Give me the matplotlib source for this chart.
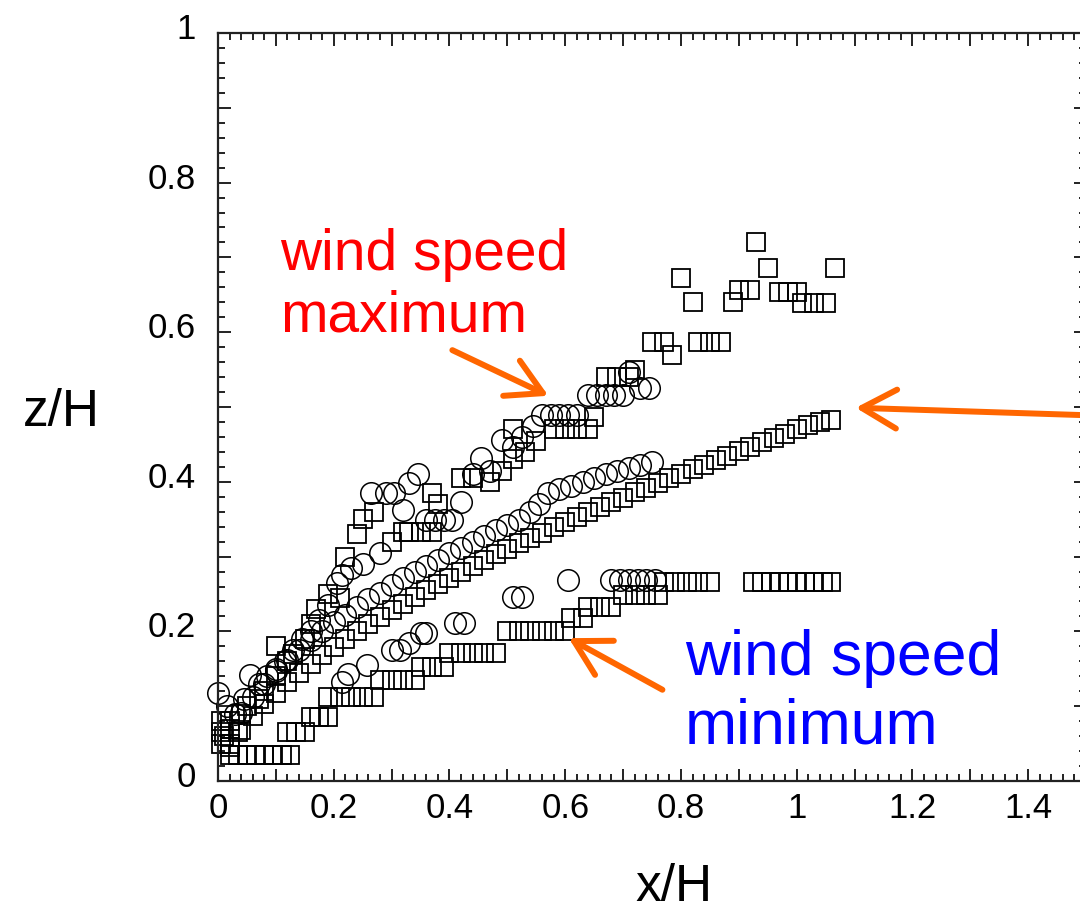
import matplotlib
matplotlib.use("Agg")
import matplotlib.pyplot as plt
from matplotlib.ticker import MultipleLocator, FuncFormatter
import matplotlib.transforms as mtransforms

plt.rcParams['font.family'] = ['Liberation Sans', 'DejaVu Sans']

# upper branch (wind speed maximum), squares
max_sq_x = [0.01, 0.02, 0.04, 0.05, 0.07, 0.08, 0.10, 0.10, 0.12, 0.13, 0.15, 0.16, 0.17, 0.19,
            0.21, 0.22, 0.24, 0.25, 0.27, 0.30, 0.32, 0.33, 0.35, 0.37, 0.37, 0.38, 0.42, 0.44,
            0.47, 0.49, 0.51, 0.51, 0.53, 0.55, 0.58, 0.60, 0.62, 0.64, 0.65, 0.67, 0.69, 0.71,
            0.72, 0.75, 0.77, 0.785, 0.80, 0.82, 0.83, 0.85, 0.87, 0.89, 0.90, 0.92, 0.93, 0.95,
            0.97, 0.985, 1.00, 1.01, 1.03, 1.05, 1.067]
max_sq_y = [0.06, 0.07, 0.09, 0.10, 0.11, 0.12, 0.14, 0.18, 0.16, 0.17, 0.19, 0.21, 0.23, 0.25,
            0.245, 0.30, 0.33, 0.35, 0.36, 0.32, 0.333, 0.333, 0.333, 0.333, 0.385, 0.37, 0.405, 0.405,
            0.40, 0.415, 0.43, 0.47, 0.44, 0.455, 0.47, 0.47, 0.47, 0.47, 0.487, 0.54, 0.54, 0.54,
            0.55, 0.587, 0.587, 0.57, 0.672, 0.64, 0.587, 0.587, 0.587, 0.64, 0.656, 0.656, 0.72, 0.686,
            0.654, 0.654, 0.654, 0.639, 0.639, 0.639, 0.686]

# upper branch, circles
max_ci_x = [0.0, 0.015, 0.03, 0.045, 0.055, 0.07, 0.085, 0.10, 0.115, 0.13, 0.145, 0.16, 0.175,
            0.19, 0.205, 0.215, 0.23, 0.25, 0.265, 0.28, 0.29, 0.305, 0.32, 0.33, 0.345, 0.36,
            0.375, 0.39, 0.405, 0.42, 0.44, 0.455, 0.47, 0.49, 0.51, 0.525, 0.545, 0.56, 0.575,
            0.59, 0.605, 0.62, 0.64, 0.655, 0.67, 0.685, 0.70, 0.71, 0.73, 0.745]
max_ci_y = [0.117, 0.10, 0.09, 0.11, 0.142, 0.13, 0.14, 0.15, 0.16, 0.175, 0.19, 0.20, 0.215,
            0.235, 0.265, 0.275, 0.285, 0.29, 0.385, 0.305, 0.385, 0.385, 0.362, 0.398, 0.41, 0.349,
            0.349, 0.349, 0.349, 0.373, 0.41, 0.432, 0.415, 0.456, 0.447, 0.46, 0.475, 0.489, 0.489,
            0.489, 0.489, 0.489, 0.516, 0.516, 0.516, 0.516, 0.516, 0.547, 0.525, 0.525]

# middle branch, squares
mid_sq_x = [0.02, 0.04, 0.06, 0.08, 0.10, 0.12, 0.14, 0.16, 0.18, 0.20, 0.22, 0.24, 0.26, 0.28,
            0.30, 0.32, 0.34, 0.36, 0.38, 0.40, 0.42, 0.44, 0.46, 0.48, 0.50, 0.52, 0.54, 0.56,
            0.58, 0.60, 0.62, 0.64, 0.66, 0.68, 0.70, 0.72, 0.74, 0.76, 0.78, 0.80, 0.82, 0.84,
            0.86, 0.88, 0.90, 0.92, 0.94, 0.96, 0.98, 1.00, 1.02, 1.04, 1.06]
mid_sq_y = [0.045, 0.068, 0.087, 0.103, 0.118, 0.132, 0.144, 0.157, 0.168, 0.179, 0.190, 0.200,
            0.210, 0.219, 0.228, 0.237, 0.246, 0.255, 0.263, 0.271, 0.279, 0.287, 0.295, 0.303,
            0.310, 0.318, 0.325, 0.332, 0.339, 0.346, 0.353, 0.360, 0.366, 0.373, 0.379, 0.386,
            0.392, 0.399, 0.405, 0.411, 0.417, 0.423, 0.429, 0.435, 0.441, 0.447, 0.453, 0.459,
            0.464, 0.470, 0.476, 0.480, 0.483]

# middle branch, circles
mid_ci_x = [0.04, 0.06, 0.08, 0.10, 0.12, 0.14, 0.16, 0.18, 0.20, 0.22, 0.24, 0.26, 0.28, 0.30,
            0.32, 0.34, 0.36, 0.38, 0.40, 0.42, 0.44, 0.46, 0.48, 0.50, 0.52, 0.54, 0.555, 0.57,
            0.59, 0.61, 0.63, 0.65, 0.67, 0.69, 0.71, 0.73, 0.75]
mid_ci_y = [0.091, 0.112, 0.130, 0.147, 0.162, 0.175, 0.188, 0.200, 0.212, 0.222, 0.233, 0.243,
            0.252, 0.262, 0.271, 0.280, 0.288, 0.296, 0.305, 0.312, 0.320, 0.328, 0.335, 0.342,
            0.349, 0.360, 0.370, 0.385, 0.390, 0.395, 0.400, 0.405, 0.410, 0.414, 0.418, 0.422,
            0.426]

# lower branch (wind speed minimum), squares
min_sq_x = [0.005, 0.005, 0.005, 0.02, 0.02, 0.035, 0.02, 0.035, 0.05, 0.065, 0.08, 0.095, 0.11,
            0.125, 0.12, 0.135, 0.15, 0.16, 0.175, 0.19, 0.19, 0.21, 0.23, 0.25, 0.27, 0.28, 0.30,
            0.32, 0.34, 0.35, 0.37, 0.39, 0.40, 0.42, 0.44, 0.46, 0.48, 0.50, 0.52, 0.54, 0.56,
            0.58, 0.60, 0.61, 0.63, 0.64, 0.66, 0.68, 0.70, 0.72, 0.74, 0.76, 0.77, 0.79, 0.81,
            0.83, 0.85, 0.925, 0.94, 0.955, 0.97, 0.985, 1.00, 1.015, 1.03, 1.045, 1.06]
min_sq_y = [0.05, 0.065, 0.08, 0.05, 0.08, 0.065, 0.035, 0.035, 0.035, 0.035, 0.035, 0.035, 0.035,
            0.035, 0.066, 0.066, 0.066, 0.085, 0.085, 0.085, 0.112, 0.112, 0.112, 0.112, 0.112,
            0.135, 0.135, 0.135, 0.135, 0.152, 0.152, 0.152, 0.171, 0.171, 0.171, 0.171, 0.171,
            0.20, 0.20, 0.20, 0.20, 0.20, 0.20, 0.218, 0.218, 0.232, 0.232, 0.232, 0.249, 0.249,
            0.249, 0.249, 0.266, 0.266, 0.266, 0.266, 0.266, 0.266, 0.266, 0.266, 0.266, 0.266,
            0.266, 0.266, 0.266, 0.266, 0.266]

# lower branch, circles
min_ci_x = [0.215, 0.225, 0.257, 0.30, 0.315, 0.33, 0.35, 0.36, 0.41, 0.425, 0.51, 0.525, 0.604,
            0.68, 0.695, 0.71, 0.725, 0.74, 0.755]
min_ci_y = [0.133, 0.143, 0.155, 0.175, 0.175, 0.185, 0.198, 0.198, 0.211, 0.211, 0.246, 0.246,
            0.269, 0.269, 0.269, 0.269, 0.269, 0.269, 0.269]

ORANGE = '#ff6600'

fig = plt.figure(figsize=(10.8, 9.13), dpi=100)
ax = fig.add_axes([218 / 1080, 132 / 913, 868 / 1080, 748 / 913])

sq = dict(ls='none', marker='s', ms=13.5, mfc='none', mec='black', mew=1.3, clip_on=False)
ci = dict(ls='none', marker='o', ms=15.5, mfc='none', mec='black', mew=1.1, clip_on=False)
ax.plot(min_sq_x, min_sq_y, **sq)
ax.plot(mid_sq_x, mid_sq_y, **sq)
ax.plot(max_sq_x, max_sq_y, **sq)
ax.plot(min_ci_x, min_ci_y, **ci)
ax.plot(mid_ci_x, mid_ci_y, **ci)
ax.plot(max_ci_x, max_ci_y, **ci)

ax.set_xlim(0, 1.5)
ax.set_ylim(0, 1)
for a in (ax.xaxis, ax.yaxis):
    a.set_major_locator(MultipleLocator(0.1))
    a.set_minor_locator(MultipleLocator(0.02))
    a.set_major_formatter(FuncFormatter(lambda v, _: f'{v:g}' if round(v * 10) % 2 == 0 else ''))
ax.tick_params(which='both', direction='in', top=True, right=True, color='#222222', width=1.4)
ax.tick_params(which='major', length=9)
ax.tick_params(which='minor', length=5)
ax.tick_params(axis='x', labelsize=25, pad=8)
ax.tick_params(axis='y', labelsize=25, pad=16)
for s in ax.spines.values():
    s.set_color('#222222')
    s.set_linewidth(1.6)

# y tick labels sit a little above their ticks
shift = mtransforms.ScaledTranslation(0, 7 / 100, fig.dpi_scale_trans)
for lab in ax.get_yticklabels():
    lab.set_transform(lab.get_transform() + shift)

ax.set_xlabel('x/H', fontsize=37, va='center')
ax.xaxis.set_label_coords(0.525, -0.143)
ax.set_ylabel('z/H', fontsize=37, rotation=0, va='center', ha='center')
ax.yaxis.set_label_coords(-0.181, 0.492)

# multi-line text: the baseline given is that of the last line
fig.text(280 / 1080, 1 - 332 / 913, 'wind speed\nmaximum', color='red', fontsize=41,
         va='baseline', ha='left')
fig.text(685 / 1080, 1 - 743 / 913, 'wind speed\nminimum', color='blue', fontsize=45,
         va='baseline', ha='left')

arrow = dict(arrowstyle='->,head_length=1.25,head_width=0.7', mutation_scale=20,
             color=ORANGE, lw=4.3, shrinkA=0, shrinkB=0, capstyle='round', joinstyle='round')
ax.annotate('', xy=(0.571, 0.515), xytext=(0.405, 0.576), arrowprops=arrow, annotation_clip=False)
ax.annotate('', xy=(0.606, 0.191), xytext=(0.768, 0.122), arrowprops=arrow, annotation_clip=False)
ax.annotate('', xy=(1.102, 0.499), xytext=(1.62, 0.486), arrowprops=arrow, annotation_clip=False)

fig.savefig('out.png', dpi=100)
